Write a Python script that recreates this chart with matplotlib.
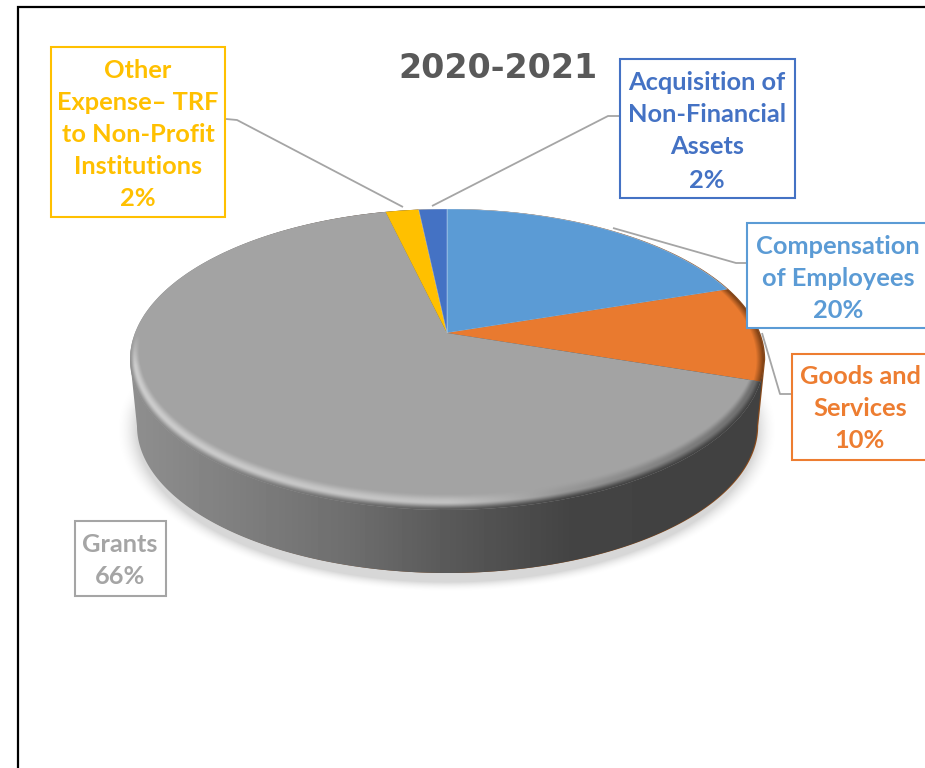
import numpy as np
import matplotlib
matplotlib.use("Agg")
import matplotlib.pyplot as plt
from matplotlib.patches import Polygon, Rectangle
from matplotlib.transforms import Transform

# slices run clockwise from 12 o'clock
categories = ["Compensation of Employees", "Goods and Services", "Grants",
              "Other Expense– TRF to Non-Profit Institutions", "Acquisition of Non-Financial Assets"]
values = [19.9, 10.2, 66.2, 2.0, 1.7]
percent_labels = ["20%", "10%", "66%", "2%", "2%"]
slice_colors = ["#5B9BD5", "#E97A2F", "#A3A3A3", "#FFC000", "#4472C4"]
title_text = "2020-2021"

W, H = 925, 768
APEX_X, APEX_Y = 447, 333
TILT, SCALE_X, SCALE_Y = 0.176, 312, 145.8
TOP_CY, TOP_RX, TOP_RY = 359.5, 317, 150.5
BOT_CY, BOT_RX, BOT_RY = 426, 310, 147
IN_CY, IN_RX, IN_RY = 351, 307, 142


class Tilted(Transform):
    # perspective view of the flat unit-circle pie, output in image pixels
    input_dims = 2
    output_dims = 2

    def transform_non_affine(self, values):
        xy = np.asarray(values, dtype=float)
        w = 1 + TILT * xy[:, 1]
        return np.column_stack([APEX_X + SCALE_X * xy[:, 0] / w, APEX_Y - SCALE_Y * xy[:, 1] / w])


def rho(cy, rx, ry):
    return np.sqrt(((xx - APEX_X) / rx) ** 2 + ((yy - cy) / ry) ** 2)


def wall_shade(x):
    return np.interp(x, [130, 250, 350, 447, 570, 760], [0.56, 0.49, 0.43, 0.35, 0.265, 0.255])


fig = plt.figure(figsize=(W / 100, H / 100), dpi=100)
ax = fig.add_axes([0, 0, 1, 1])
yy, xx = np.mgrid[0:H, 0:W] + 0.5

# soft shadow under the disc
r_sh = rho(430, 310, 152)
sh = np.zeros((H, W, 4))
sh[..., 3] = 0.16 * np.clip((1.07 - r_sh) / 0.07, 0, 1) ** 2 * np.clip((yy - 370) / 40, 0, 1)
ax.imshow(sh, extent=(0, W, H, 0), aspect="auto", zorder=1)

# outline of the whole disc, top half of upper ellipse + bottom half of lower ellipse
t = np.linspace(np.pi, 0, 200)
upper = np.column_stack([APEX_X + TOP_RX * np.cos(t), TOP_CY - TOP_RY * np.sin(t)])
t = np.linspace(0, np.pi, 200)
lower = np.column_stack([APEX_X + BOT_RX * np.cos(t), BOT_CY + BOT_RY * np.sin(t)])
hull = np.vstack([upper, lower])

ax.add_patch(Polygon(hull + [1.2, 0], closed=True, fc="#8A4A1A", ec="none", zorder=2))

# side wall with horizontal gradient
grad = wall_shade(np.arange(W) + 0.5)[None, :]
wall = ax.imshow(grad, extent=(0, W, H, 0), aspect="auto", cmap="gray", vmin=0, vmax=1, zorder=3)
wall.set_clip_path(Polygon(hull, closed=True, transform=ax.transData))

wedges, _ = ax.pie(values, colors=slice_colors, startangle=90, counterclock=False, frame=True,
                   wedgeprops={"linewidth": 0})
tilted = Tilted() + ax.transData
for w in wedges:
    w.set_transform(tilted)
    w.set_zorder(4)
# thin pale seam only on the two blue slices
for w in (wedges[0], wedges[4]):
    w.set_edgecolor("#ffffff70")
    w.set_linewidth(0.5)

# rounded bevel on the rim of the grey slice
r_out = rho(TOP_CY, TOP_RX, TOP_RY)
r_in = rho(IN_CY, IN_RX, IN_RY)
d_out = 1 - r_out
d_in = r_in - 1
s = np.clip(d_out / np.maximum(d_out + d_in, 1e-6), 0, 1)
shade_o = wall_shade(xx)
shade_h = np.interp(xx, [130, 450, 560, 770], [0.80, 0.76, 0.60, 0.42])
shade_i = 0.64
ease = np.where(s < 0.45, s / 0.45, (s - 0.45) / 0.55)
ease = ease * ease * (3 - 2 * ease)
band = np.where(s < 0.45, shade_o + (shade_h - shade_o) * ease, shade_h + (shade_i - shade_h) * ease)
bev = np.zeros((H, W, 4))
bev[..., 0] = bev[..., 1] = bev[..., 2] = band
bev[..., 3] = (d_in > 0) * np.clip((yy - 335) / 30, 0, 1)
bevel = ax.imshow(bev, extent=(0, W, H, 0), aspect="auto", zorder=5)
grey = wedges[2]
bevel.set_clip_path(grey.get_path(), grey.get_transform())

# dark edge on the orange slice
edge = np.zeros((H, W, 4))
edge[..., 0], edge[..., 1], edge[..., 2] = 0.35, 0.18, 0.05
edge[..., 3] = np.clip((r_out - 0.975) / 0.025, 0, 1) * (r_out < 1.003) * 0.8
orange_edge = ax.imshow(edge, extent=(0, W, H, 0), aspect="auto", zorder=5)
orange = wedges[1]
orange_edge.set_clip_path(orange.get_path(), orange.get_transform())

# leader lines
leaders = [
    ([226, 237, 403], [119, 120, 207]),
    ([432, 608, 620], [206, 116, 116]),
    ([613, 736, 747], [228, 263, 263]),
    ([762, 780, 792], [333, 394, 394]),
]
for lx, ly in leaders:
    ax.plot(lx, ly, color="#A5A5A5", lw=1.3, zorder=6, solid_capstyle="butt")

# callout boxes
label_lines = [
    ["Compensation", "of Employees"],
    ["Goods and", "Services"],
    ["Grants"],
    ["Other", "Expense– TRF", "to Non-Profit", "Institutions"],
    ["Acquisition of", "Non-Financial", "Assets"],
]
box_rects = [(747, 223, 190, 105), (792, 354, 145, 106), (75, 521, 91, 75), (50.5, 47, 174.5, 170), (620, 59, 175, 139)]
text_x = [838, 860, 120, 138, 707]
text_y = [[246, 278, 311], [376, 408, 441], [545, 577], [70, 103, 134, 167, 199], [82, 114, 147, 180]]
label_colors = ["#5B9BD5", "#ED7D31", "#A5A5A5", "#FFC000", "#4472C4"]

for i in range(5):
    bx, by, bw, bh = box_rects[i]
    ax.add_patch(Rectangle((bx, by), bw, bh, fc="white", ec=label_colors[i], lw=1.5, zorder=7))
    rows = label_lines[i] + [percent_labels[i]]
    for row, ty in zip(rows, text_y[i]):
        ax.text(text_x[i], ty, row, color=label_colors[i], ha="center", va="center",
                family="Lato", weight="bold", fontsize=18.3, zorder=8)

ax.text(497.5, 69, title_text, color="#595959", ha="center", va="center",
        family="DejaVu Sans", weight="bold", fontsize=24, zorder=8)

# frame of the pasted chart
ax.plot([18, 18, W], [H, 7, 7], color="black", lw=1.6, zorder=9, solid_joinstyle="miter")

ax.set_aspect("auto")
ax.set_xlim(0, W)
ax.set_ylim(H, 0)
ax.axis("off")
fig.savefig("out.png", dpi=100)
